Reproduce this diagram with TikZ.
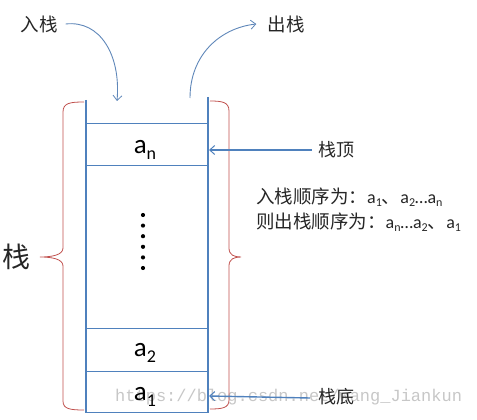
\documentclass[tikz,border=0pt]{standalone}
\usepackage{fontspec}
\setmainfont{Carlito}
\newfontfamily\cjk{Noto Sans CJK SC}
\newfontfamily\wmfont{Liberation Mono}
\usetikzlibrary{arrows.meta}
\definecolor{stackblue}{RGB}{79,129,189}
\definecolor{bracered}{RGB}{192,80,77}
\definecolor{arrowblue}{RGB}{95,135,185}
\newcommand{\elem}[2]{{\fontsize{27}{27}\selectfont a}\raisebox{-6pt}{\fontsize{18}{18}\selectfont #2}}
\newcommand{\sm}[1]{\raisebox{-2.5pt}{\fontsize{12}{12}\selectfont #1}}
\newcommand{\cz}[1]{{\cjk\fontsize{18.5}{18.5}\selectfont #1}}
\tikzset{
  cell/.style={draw=stackblue, line width=0.9pt, minimum width=122pt, inner sep=0pt, anchor=north west},
  side/.style={draw=stackblue, line width=1.8pt},
  brace/.style={draw=bracered, line width=0.8pt},
  lbl/.style={font=\cjk\fontsize{18}{18}\selectfont, text=black!85, inner sep=0pt},
  ptr/.style={draw=stackblue, line width=1.4pt, -{Straight Barb[length=5pt,width=9pt,line width=1pt]}},
  flow/.style={draw=arrowblue, line width=0.9pt, -{Straight Barb[length=5pt,width=9pt,line width=0.8pt]}},
  dot/.style={circle, fill=black, inner sep=0pt, minimum size=4.2pt},
  order/.style={anchor=west, inner sep=0pt, text=black!85, font=\fontsize{18}{18}\selectfont}
}
\begin{document}
\begin{tikzpicture}[x=1pt,y=-1pt]
\useasboundingbox (0,0) rectangle (477,420);
% watermark
\node[font=\wmfont\fontsize{17}{17}\selectfont, text=black!22, anchor=west, inner sep=0pt] (wm) at (115,397) {https://blog.csdn.net/wang\_Jiankun};
% cells
\node[cell, minimum height=42pt] (cn) at (86,123) {};
\node[cell, minimum height=163pt] (cm) at (86,165) {};
\node[cell, minimum height=43pt] (c2) at (86,328) {};
\node[cell, minimum height=41pt] (c1) at (86,371) {};
\node[inner sep=0pt] (an) at (145,150) {\elem{a}{n}};
\node[inner sep=0pt] (a2) at (145,353) {\elem{a}{2}};
\node[inner sep=0pt] (a1) at (145,397) {\elem{a}{1}};
% side walls
\coordinate (lt) at (86,100);
\coordinate (lb) at (86,413);
\coordinate (rt) at (208,97);
\coordinate (rb) at (208,413);
\draw[side] (lt) -- (lb);
\draw[side] (rt) -- (rb);
\draw[draw=stackblue, line width=1.8pt] (85,412.5) -- (209,412.5);
% dots
\foreach \i in {0,...,5} \node[dot] (d\i) at (143,{215+10.6*\i}) {};
% braces
\draw[brace] (84,102) .. controls (70,102) and (63,103) .. (63,112) -- (63,248)
  .. controls (63,255) and (52,257) .. (40,257)
  .. controls (52,257) and (63,259) .. (63,266) -- (63,401)
  .. controls (63,409) and (70,410) .. (84,410);
\draw[brace] (210,101) .. controls (222,101) and (229,102) .. (229,111) -- (229,248)
  .. controls (229,255) and (234,257) .. (241,257)
  .. controls (234,257) and (229,259) .. (229,266) -- (229,400)
  .. controls (229,408) and (222,409) .. (210,409);
\node[font=\cjk\fontsize{28}{28}\selectfont, inner sep=0pt, text=black!85] (zhan) at (16,257) {栈};
% in / out
\node[lbl, font=\cjk\fontsize{18.5}{18.5}\selectfont] (in) at (39,24) {入栈};
\node[lbl, font=\cjk\fontsize{18.5}{18.5}\selectfont] (out) at (286,24) {出栈};
\coordinate (inend) at (117,101);
\coordinate (outstart) at (190,98);
\draw[flow] (in.east) ++(8,0) .. controls (100,20) and (121,55) .. (inend);
\draw[flow] (outstart) .. controls (190,55) and (220,28) .. ([xshift=-11pt]out.west);
% pointers
\node[lbl, anchor=west] (top) at (318,150) {栈顶};
\node[lbl, anchor=west] (bot) at (318,397) {栈底};
\coordinate (topend) at (209,150);
\coordinate (botend) at (209,396);
\draw[ptr] ([xshift=-6pt]top.west) -- (topend);
\draw[ptr] ([xshift=-8pt,yshift=-1pt]bot.west) -- (botend);
% order text
\node[order] (l1) at (256,197)
  {\cz{入栈顺序为：}a\sm{1}\cz{、}a\sm{2}…a\sm{n}};
\node[order] (l2) at (256,222)
  {\cz{则出栈顺序为：}a\sm{n}…a\sm{2}\cz{、}a\sm{1}};
\end{tikzpicture}
\end{document}
